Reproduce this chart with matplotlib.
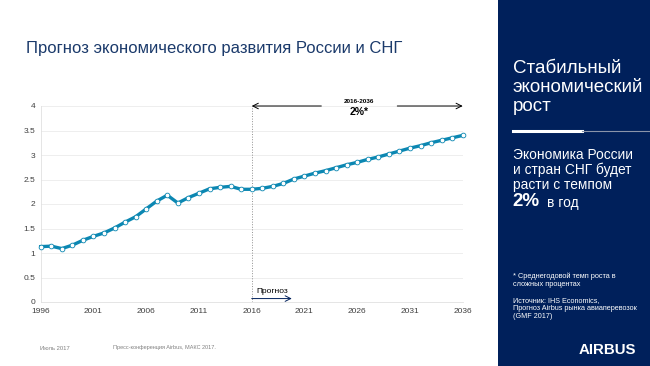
import matplotlib.pyplot as plt
from matplotlib.patches import Rectangle
from matplotlib.lines import Line2D

plt.rcParams['font.family'] = ['Liberation Sans', 'DejaVu Sans']

# данные: индекс экономики России и СНГ
years = list(range(1996, 2037))
values = [1.13, 1.14, 1.09, 1.16, 1.26, 1.34, 1.41, 1.51, 1.63, 1.74,
          1.90, 2.06, 2.18, 2.02, 2.13, 2.22, 2.31, 2.34, 2.36, 2.30,
          2.30, 2.32, 2.36, 2.42, 2.51, 2.57, 2.63, 2.68, 2.74, 2.80,
          2.85, 2.91, 2.96, 3.02, 3.08, 3.14, 3.19, 3.25, 3.30, 3.35,
          3.40]
xticks = [1996, 2001, 2006, 2011, 2016, 2021, 2026, 2031, 2036]
yticks = [0, 0.5, 1, 1.5, 2, 2.5, 3, 3.5, 4]
ytick_labels = ['0', '0.5', '1', '1.5', '2', '2.5', '3', '3.5', '4']

navy = '#00205B'
teal = '#0B87B2'

fig = plt.figure(figsize=(6.5, 3.66), dpi=100)

# правая панель
fig.patches.append(Rectangle((498 / 650, 0), 152 / 650, 1, transform=fig.transFigure,
                             facecolor=navy, edgecolor='none', zorder=0))

ax = fig.add_axes([40.7 / 650, 64 / 366, 422 / 650, 196 / 366])
ax.plot(years, values, color=teal, lw=2.4, marker='o', ms=3.4,
        mfc='white', mec=teal, mew=0.6, clip_on=False, zorder=3)

ax.set_xlim(1996, 2036)
ax.set_ylim(0, 4)
ax.set_xticks(xticks)
ax.set_yticks(yticks)
ax.set_yticklabels(ytick_labels)
ax.tick_params(labelsize=6, colors='#404040', length=0, pad=4)
ax.grid(axis='y', color='#ebebeb', lw=0.6)
for s in ['top', 'right']:
    ax.spines[s].set_visible(False)
for s in ['left', 'bottom']:
    ax.spines[s].set_color('#e0e0e0')
    ax.spines[s].set_linewidth(0.6)

# граница прогноза
ax.axvline(2016, color='#909090', lw=0.7, ls=':', zorder=2)
ax.annotate('', xy=(2016, 4), xytext=(2022.6, 4), annotation_clip=False,
            arrowprops=dict(arrowstyle='->', lw=0.7, color='black', shrinkA=0, shrinkB=0))
ax.annotate('', xy=(2036, 4), xytext=(2029.8, 4), annotation_clip=False,
            arrowprops=dict(arrowstyle='->', lw=0.7, color='black', shrinkA=0, shrinkB=0))
ax.text(2026.2, 4.05, '2016-2036', fontsize=4.6, fontweight='bold', ha='center', va='bottom')
ax.text(2026.2, 3.98, '2%*', fontsize=7.5, fontweight='bold', ha='center', va='top')

ax.annotate('', xy=(2019.8, 0.07), xytext=(2016, 0.07),
            arrowprops=dict(arrowstyle='->', lw=0.7, color=navy, shrinkA=0, shrinkB=0))
ax.text(2016.4, 0.15, 'Прогноз', fontsize=6, color='black', ha='left', va='bottom')

# заголовок и подписи
fig.text(26 / 650, 1 - 48 / 366, 'Прогноз экономического развития России и СНГ',
         fontsize=12, color='#1B3A6B', ha='left', va='center')
fig.text(40 / 650, 1 - 348 / 366, 'Июль 2017', fontsize=4.2, color='#808080', va='center')
fig.text(113 / 650, 1 - 348 / 366, 'Пресс-конференция Airbus, МАКС 2017.',
         fontsize=4.0, color='#808080', va='center')

# текст на панели
x0 = 512.7 / 650
fig.text(x0, 1 - 60 / 366, 'Стабильный\nэкономический\nрост', fontsize=13.5,
         color='white', ha='left', va='top', linespacing=1.15)
fig.add_artist(Line2D([512.7 / 650, 581.7 / 650], [1 - 130.7 / 366] * 2,
                      color='white', lw=2.2, transform=fig.transFigure))
fig.add_artist(Line2D([581.7 / 650, 1], [1 - 130.7 / 366] * 2,
                      color='#8a94aa', lw=0.8, transform=fig.transFigure))
fig.text(x0, 1 - 148 / 366, 'Экономика России\nи стран СНГ будет\nрасти с темпом',
         fontsize=9.9, color='white', ha='left', va='top', linespacing=1.05)
fig.text(x0, 1 - 202 / 366, '2%', fontsize=13.5, fontweight='bold', color='white',
         ha='left', va='center')
fig.text(546.7 / 650, 1 - 203 / 366, 'в год', fontsize=9.9, color='white',
         ha='left', va='center')
fig.text(x0, 1 - 273 / 366, '* Среднегодовой темп роста в\nсложных процентах',
         fontsize=5.3, color='white', ha='left', va='top', linespacing=1.2)
fig.text(x0, 1 - 297 / 366,
         'Источник: IHS Economics,\nПрогноз Airbus рынка авиаперевозок\n(GMF 2017)',
         fontsize=5.2, color='white', ha='left', va='top', linespacing=1.15)
fig.text(636 / 650, 1 - 350 / 366, 'AIRBUS', fontsize=10.8, fontweight='bold',
         color='white', ha='right', va='center')

fig.savefig('out.png', dpi=100)
